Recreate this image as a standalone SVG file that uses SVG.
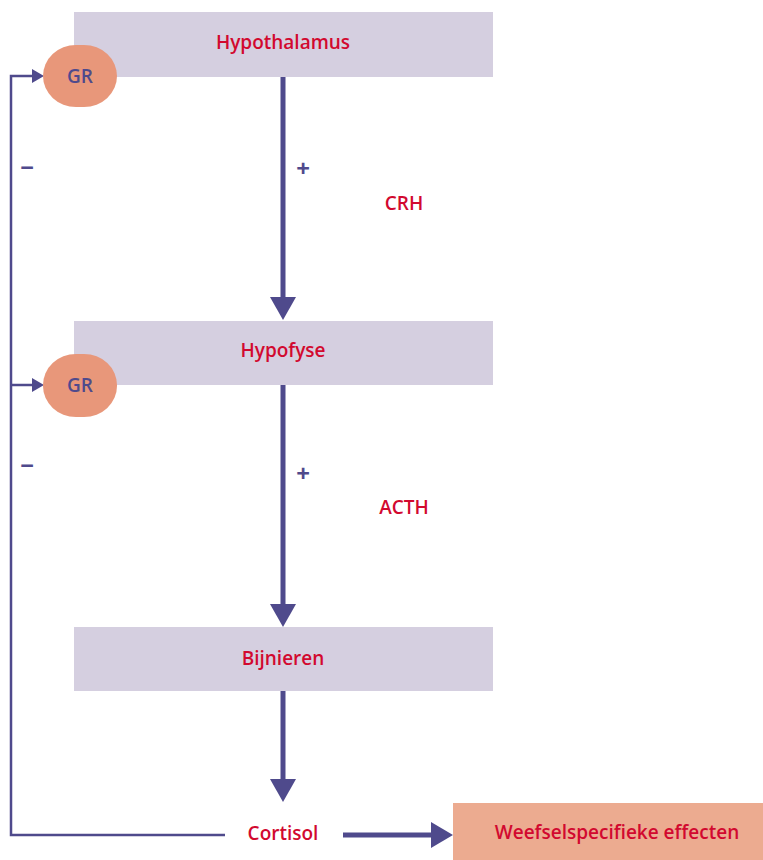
<svg xmlns="http://www.w3.org/2000/svg" width="763" height="860" viewBox="0 0 763 860">
<defs>
<style>
.box{fill:#d5cfe0}
.gr{fill:#e8977a}
.t{font-family:"Open Sans","Liberation Sans",sans-serif;font-weight:600;font-size:19px;fill:#d2092f;text-anchor:middle}
.g{font-family:"Open Sans","Liberation Sans",sans-serif;font-weight:600;font-size:19px;fill:#4f4a8c;text-anchor:middle}
.sign{font-family:"Open Sans","Liberation Sans",sans-serif;font-weight:700;font-size:24px;fill:#4f4a8c;text-anchor:middle}
.thick{stroke:#4f4a8c;stroke-width:5;fill:none}
.thin{stroke:#4f4a8c;stroke-width:2.5;fill:none}
.head{fill:#4f4a8c}
</style>
</defs>
<g id="connectors">
<line class="thick" x1="283" y1="77" x2="283" y2="300"/>
<polygon class="head" points="270,297 296,297 283,320"/>
<line class="thick" x1="283" y1="385" x2="283" y2="606"/>
<polygon class="head" points="270,604 296,604 283,627"/>
<line class="thick" x1="283" y1="691" x2="283" y2="782"/>
<polygon class="head" points="270,779 296,779 283,802"/>
<line class="thick" x1="343" y1="835" x2="433" y2="835"/>
<polygon class="head" points="431,822 431,848 453,835"/>
<polyline class="thin" points="225,835 11,835 11,76 34,76"/>
<polygon class="head" points="32,69 32,83 44,76"/>
<line class="thin" x1="11" y1="385" x2="34" y2="385"/>
<polygon class="head" points="32,378 32,392 44,385"/>
<text class="sign" x="27" y="176">−</text>
<text class="sign" x="27" y="474">−</text>
<text class="sign" x="303" y="177">+</text>
<text class="sign" x="303" y="482">+</text>
<text class="t" x="404" y="210">CRH</text>
<text class="t" x="404" y="514">ACTH</text>
</g>
<g id="hypothalamus">
<rect class="box" x="74" y="12" width="419" height="65"/>
<text class="t" x="283" y="49">Hypothalamus</text>
</g>
<g id="gr1">
<rect class="gr" x="43" y="45" width="74" height="62" rx="33" ry="31"/>
<text class="g" x="80" y="83">GR</text>
</g>
<g id="hypofyse">
<rect class="box" x="74" y="321" width="419" height="64"/>
<text class="t" x="283" y="357">Hypofyse</text>
</g>
<g id="gr2">
<rect class="gr" x="43" y="354" width="74" height="63" rx="33" ry="31"/>
<text class="g" x="80" y="392">GR</text>
</g>
<g id="bijnieren">
<rect class="box" x="74" y="627" width="419" height="64"/>
<text class="t" x="283" y="665">Bijnieren</text>
</g>
<g id="cortisol">
<text class="t" x="283" y="840">Cortisol</text>
</g>
<g id="effecten">
<rect x="453" y="803" width="310" height="57" fill="#ecab90"/>
<text class="t" x="617" y="839">Weefselspecifieke effecten</text>
</g>
</svg>
